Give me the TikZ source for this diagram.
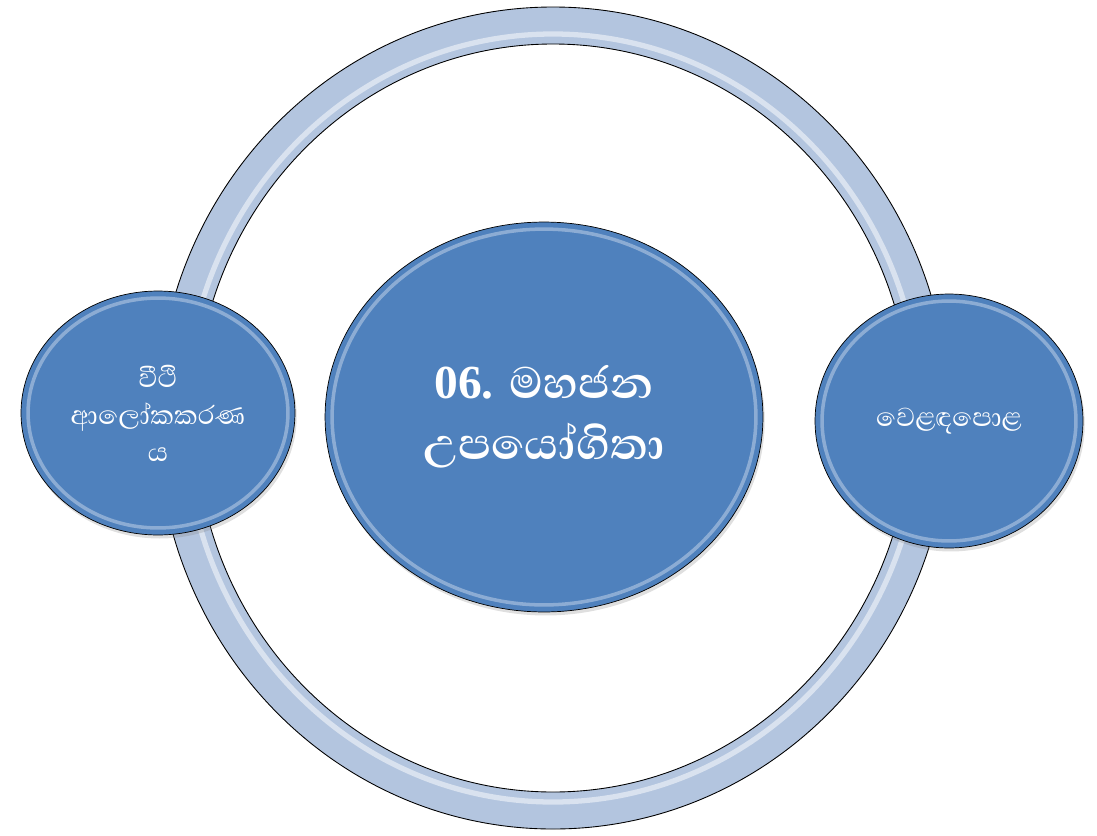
\documentclass[tikz,border=0pt]{standalone}
\usepackage{fontspec}
\setmainfont{Liberation Serif}
\newfontfamily\sinhala[Script=Sinhala]{Abhaya Libre}
\usetikzlibrary{shapes.geometric, calc, shadows}

\definecolor{bubbleblue}{HTML}{4F81BD}
\definecolor{ringblue}{HTML}{B3C5DF}

\tikzset{
  bubble/.style={ellipse, draw=black, fill=bubbleblue, text=white, align=center,
    inner sep=0pt, drop shadow={opacity=0.25, shadow xshift=1pt, shadow yshift=-2pt},
    path picture={
      \draw[white, opacity=.35, line width=2pt]
        let \p1=($(path picture bounding box.north east)-(path picture bounding box.center)$) in
        (path picture bounding box.center) ellipse [x radius=\x1-4pt, y radius=\y1-4pt];
    }},
  ringline/.style={draw=black, line width=0.5pt}
}

\begin{document}
\begin{tikzpicture}[x=0.02cm, y=-0.02cm]
    \useasboundingbox (0,0) rectangle (1097,835);
    \fill[ringblue, even odd rule]
      (553,418) ellipse [x radius=396, y radius=411]
      (553,418) ellipse [x radius=358, y radius=374];
    \draw[white, opacity=.5, line width=3pt] (553,418) ellipse [x radius=368, y radius=384];
    \draw[ringline] (553,418) ellipse [x radius=396, y radius=411];
    \draw[ringline] (553,418) ellipse [x radius=358, y radius=374];
    \node[bubble, minimum width=8.76cm, minimum height=7.8cm,
      font=\fontsize{27}{35}\selectfont] (utility) at (544,417)
      {{\bfseries 06.} {\sinhala\bfseries\fontsize{32}{35}\selectfont මහජන}\\
       {\sinhala\bfseries\fontsize{32}{35}\selectfont උපයෝගිතා}};
    \node[bubble, minimum width=5.48cm, minimum height=4.88cm,
      font=\sinhala\fontsize{19}{21}\selectfont] (lighting) at (158,413)
      {වීථි\\ආලෝකකරණ\\ය};
    \node[bubble, minimum width=5.36cm, minimum height=5.08cm,
      font=\sinhala\fontsize{19}{21}\selectfont] (market) at (949,421)
      {වෙළඳපොළ};
\end{tikzpicture}
\end{document}
